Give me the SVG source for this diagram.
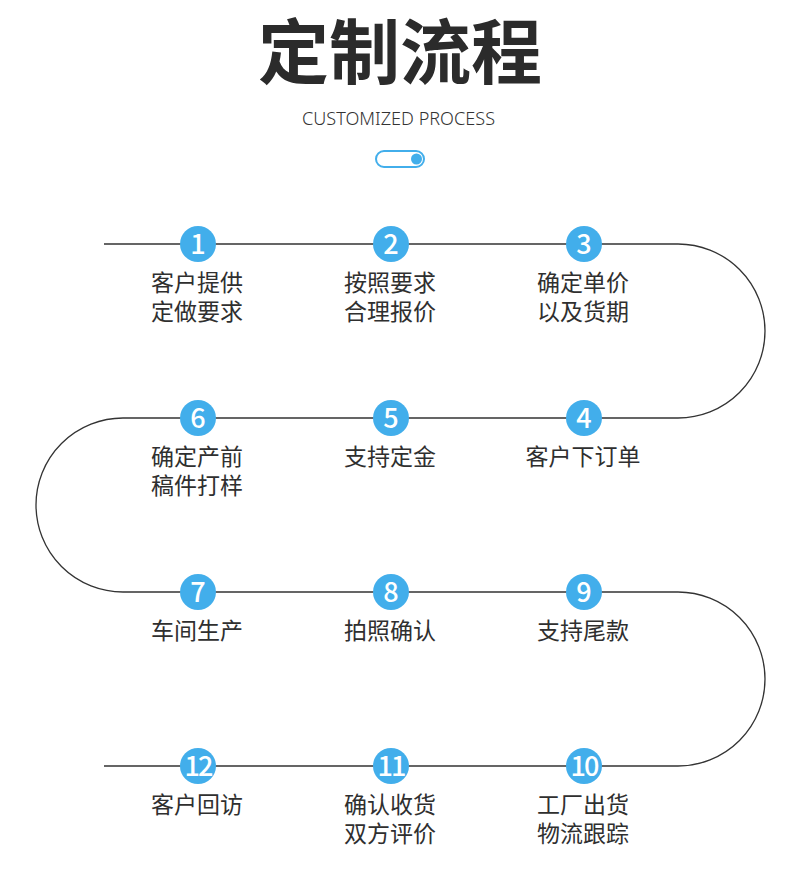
<svg xmlns="http://www.w3.org/2000/svg" width="800" height="879" viewBox="0 0 800 879">
<style>
.title{font-family:"Noto Sans CJK SC","Noto Sans",sans-serif;font-weight:700;font-size:71px;fill:#2b2b2b}
.sub{font-family:"Noto Sans","Noto Sans CJK SC",sans-serif;font-weight:300;font-size:18px;fill:#333}
.dot{fill:#42aeeb}
.num{font-family:"Noto Sans CJK SC","Noto Sans",sans-serif;font-weight:500;font-size:27px;fill:#fff;text-anchor:middle}
.lbl{font-family:"Noto Sans CJK SC","Noto Sans",sans-serif;font-size:23px;fill:#2f2f2f;text-anchor:middle}
.line{fill:none;stroke:#333;stroke-width:1.3}
</style>
<rect width="800" height="879" fill="#fff"/>
<g id="header">
<text class="title" x="400" y="78" text-anchor="middle">定制流程</text>
<text class="sub" x="398.5" y="125" text-anchor="middle" textLength="193" lengthAdjust="spacingAndGlyphs">CUSTOMIZED PROCESS</text>
<rect x="376" y="151" width="48" height="16" rx="8" fill="none" stroke="#42aeeb" stroke-width="2"/>
<circle cx="416.5" cy="159" r="5.5" class="dot"/>
</g>
<g id="connectors">
<path class="line" d="M104 244 H678 A87 87 0 0 1 678 418 H123 A87 87 0 0 0 123 592 H678 A87 87 0 0 1 678 766 H104"/>
</g>
<g id="step1"><circle class="dot" cx="198" cy="244" r="18"/><text class="num" x="198" y="254">1</text><text class="lbl" x="197" y="291">客户提供</text><text class="lbl" x="197" y="320">定做要求</text></g>
<g id="step2"><circle class="dot" cx="391" cy="244" r="18"/><text class="num" x="391" y="254">2</text><text class="lbl" x="390" y="291">按照要求</text><text class="lbl" x="390" y="320">合理报价</text></g>
<g id="step3"><circle class="dot" cx="584" cy="244" r="18"/><text class="num" x="584" y="254">3</text><text class="lbl" x="583" y="291">确定单价</text><text class="lbl" x="583" y="320">以及货期</text></g>
<g id="step4"><circle class="dot" cx="584" cy="418" r="18"/><text class="num" x="584" y="428">4</text><text class="lbl" x="583" y="465">客户下订单</text></g>
<g id="step5"><circle class="dot" cx="391" cy="418" r="18"/><text class="num" x="391" y="428">5</text><text class="lbl" x="390" y="465">支持定金</text></g>
<g id="step6"><circle class="dot" cx="198" cy="418" r="18"/><text class="num" x="198" y="428">6</text><text class="lbl" x="197" y="465">确定产前</text><text class="lbl" x="197" y="494">稿件打样</text></g>
<g id="step7"><circle class="dot" cx="198" cy="592" r="18"/><text class="num" x="198" y="602">7</text><text class="lbl" x="197" y="639">车间生产</text></g>
<g id="step8"><circle class="dot" cx="391" cy="592" r="18"/><text class="num" x="391" y="602">8</text><text class="lbl" x="390" y="639">拍照确认</text></g>
<g id="step9"><circle class="dot" cx="584" cy="592" r="18"/><text class="num" x="584" y="602">9</text><text class="lbl" x="583" y="639">支持尾款</text></g>
<g id="step10"><circle class="dot" cx="584" cy="766" r="18"/><text class="num" x="584" y="776" letter-spacing="-2">10</text><text class="lbl" x="583" y="813">工厂出货</text><text class="lbl" x="583" y="842">物流跟踪</text></g>
<g id="step11"><circle class="dot" cx="391" cy="766" r="18"/><text class="num" x="391" y="776" letter-spacing="-2">11</text><text class="lbl" x="390" y="813">确认收货</text><text class="lbl" x="390" y="842">双方评价</text></g>
<g id="step12"><circle class="dot" cx="198" cy="766" r="18"/><text class="num" x="198" y="776" letter-spacing="-2">12</text><text class="lbl" x="197" y="813">客户回访</text></g>
</svg>
